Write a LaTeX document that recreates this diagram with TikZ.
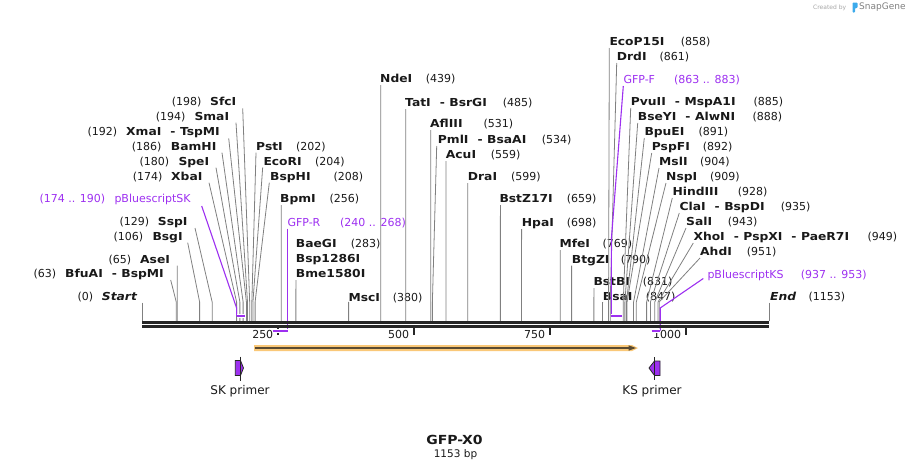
\documentclass[tikz,border=0pt]{standalone}
\usepackage{fontspec}
\setmainfont{DejaVu Sans}[BoldFeatures={FakeStretch=1.12},BoldItalicFeatures={FakeStretch=1.12}]
\definecolor{ln}{RGB}{128,128,128}
\definecolor{pur}{RGB}{157,48,240}
\definecolor{bb}{RGB}{38,38,38}
\definecolor{orf}{RGB}{250,200,120}
\definecolor{ord}{RGB}{90,75,50}
\definecolor{txt}{RGB}{25,25,25}
\definecolor{logob}{RGB}{60,170,235}
\tikzset{
 lab/.style={inner sep=0pt, anchor=west, text height=8pt, text depth=0pt, font=\fontsize{11}{13}\selectfont, text=txt},
 nm/.style={lab, font=\fontsize{11}{13}\selectfont\bfseries},
 plab/.style={lab, text=pur},
 cutl/.style={draw=ln, line width=0.8pt},
 featl/.style={draw=pur, line width=1.1pt},
 featbar/.style={draw=pur, line width=2.2pt},
 halo/.style={draw=white, line width=4pt},
 bbone/.style={draw=bb, line width=2.8pt},
 tickl/.style={draw=bb, line width=1.8pt},
 primer/.style={fill=pur, draw=bb, line width=0.8pt, line join=miter},
 plabel/.style={inner sep=0pt, text height=9pt, text depth=0pt, font=\fontsize{12}{14}\selectfont, text=txt}
}
\newcommand\sep{\hspace{9pt}-\hspace{4.5pt}}
\newcommand\enz[8]{%
 \node[nm] (#1) at (#4,#2) {#5};
 \node[lab] (#1n) at (#3,#2) {(#8)};
 \coordinate (#1a) at (#6,#7);
 \coordinate (#1c) at ({142+#8*0.5438},321);
 \draw[cutl] (#1a) -- (#1c |- bend) -- (#1c);
}
\begin{document}
\begin{tikzpicture}[x=1pt,y=-1pt]
\useasboundingbox (0,0) rectangle (911,471);
\coordinate (bend) at (0,302);

% ---- left cluster (number, then name)
\enz{sfc}{101.7}{171.7}{210}{SfcI}{242.7}{108.3}{198}
\enz{sma}{116.7}{155.7}{194.3}{SmaI}{236}{122.7}{194}
\enz{xma}{131.7}{87.3}{126}{XmaI\sep TspMI}{228.7}{138.3}{192}
\enz{bam}{146.7}{131.7}{170.7}{BamHI}{222}{152.7}{186}
\enz{spe}{161.7}{139.3}{178.3}{SpeI}{216}{167.7}{180}
\enz{xba}{176.7}{132.7}{171}{XbaI}{209}{182.7}{174}
\enz{ssp}{221.7}{119.3}{157.7}{SspI}{195}{228}{129}
\enz{bsg}{236.7}{113.3}{152.3}{BsgI}{187.7}{242.7}{106}
\enz{ase}{259}{108.3}{140}{AseI}{177.3}{265.5}{65}
\enz{bfu}{273.7}{33.3}{65}{BfuAI\sep BspMI}{170.7}{280}{63}

% ---- name, then number
\enz{pst}{146.7}{296}{256}{PstI}{256}{152.7}{202}
\enz{eco}{161.7}{315}{263.3}{EcoRI}{262.7}{167.3}{204}
\enz{bsph}{176.7}{333.3}{270}{BspHI}{269.3}{182.7}{208}
\enz{bpm}{198.3}{329.3}{280}{BpmI}{281.2}{205}{256}
\enz{bae}{243.3}{350.7}{295.7}{BaeGI}{295.9}{280}{283}
\node[nm] (bsp) at (295.7,258.5) {Bsp1286I};
\node[nm] (bme) at (295.7,273.5) {Bme1580I};
\enz{msc}{297.3}{392.7}{348.3}{MscI}{348.6}{303.5}{380}
\enz{nde}{78.3}{425.7}{380}{NdeI}{380.7}{85}{439}
\enz{tat}{102.7}{502.7}{405}{TatI\sep BsrGI}{405.7}{109}{485}
\enz{afl}{123.3}{483.3}{430}{AflIII}{430.8}{130}{531}
\enz{pml}{139.3}{541.7}{437.7}{PmlI\sep BsaAI}{436.7}{146}{534}
\enz{acu}{154.3}{490.7}{445.7}{AcuI}{446}{161}{559}
\enz{dra}{176.7}{511}{467.7}{DraI}{467.7}{183}{599}
\enz{bstz}{198.3}{566.7}{499.3}{BstZ17I}{500.4}{205}{659}
\enz{hpa}{222.3}{566.7}{521.7}{HpaI}{521.6}{229}{698}
\enz{mfe}{243.3}{602.3}{559.3}{MfeI}{560.2}{250}{769}
\enz{btg}{259}{620.7}{571.7}{BtgZI}{571.6}{265.5}{790}
\enz{bstb}{281.7}{642.7}{593.3}{BstBI}{593.9}{288}{831}
\enz{bsa}{296.7}{645.7}{602.7}{BsaI}{602.6}{303}{847}
\enz{ecop}{41.7}{680.7}{609.3}{EcoP15I}{609.3}{48}{858}
\enz{drd}{56.7}{659.3}{616.7}{DrdI}{616.7}{63}{861}
\enz{pvu}{101.7}{753.3}{630.7}{PvuII\sep MspA1I}{630.7}{108}{885}
\enz{bse}{116.7}{752.3}{637.7}{BseYI\sep AlwNI}{637.7}{123}{888}
\enz{bpu}{131.7}{698.3}{644.3}{BpuEI}{644.3}{138}{891}
\enz{psp}{146.7}{702.7}{651.7}{PspFI}{651.7}{153}{892}
\enz{msl}{161.7}{700}{659}{MslI}{659}{168}{904}
\enz{nsp}{176.7}{710}{666}{NspI}{666}{183}{909}
\enz{hind}{191.7}{737.7}{672.3}{HindIII}{672.3}{198}{928}
\enz{cla}{206.7}{780.7}{679.3}{ClaI\sep BspDI}{679.3}{213}{935}
\enz{sal}{221.7}{727.7}{686}{SalI}{686}{228}{943}
\enz{xho}{236.7}{867.3}{693.3}{XhoI\sep PspXI\sep PaeR7I}{693.3}{243}{949}
\enz{ahd}{251.7}{746.7}{700}{AhdI}{700}{258}{951}

% ---- start / end
\node[lab] (startn) at (77.3,296.7) {(0)};
\node[nm] (start) at (101.7,296.7) {\itshape Start};
\coordinate (starta) at (142,302.5);
\coordinate (startc) at (142,321);
\draw[cutl] (starta) -- (startc);
\node[nm] (endl) at (770,296.7) {\itshape End};
\node[lab] (endn) at (808.3,296.7) {(1153)};
\coordinate (enda) at (769,302.5);
\coordinate (endc) at (769,321);
\draw[cutl] (enda) -- (endc);

% ---- features (labels and leader lines)
\node[plab] (skn) at (39.3,198.3) {(174 .. 190)};
\node[plab] (sk) at (114.3,198.3) {pBluescriptSK};
\coordinate (ska) at (201.7,206);
\coordinate (skl) at (236.6,316);
\coordinate (skr) at (245.3,316);
\draw[featl] (ska) -- (236.6,308) -- (skl);

\node[plab] (gfpr) at (287.3,222.3) {GFP-R};
\node[plab] (gfprn) at (340,222.3) {(240 .. 268)};
\coordinate (gfpra) at (287.7,228.5);
\coordinate (gfprr) at (287.7,330.7);
\coordinate (gfprl) at (272.5,330.7);
\draw[featl] (gfpra) -- (gfprr);

\node[plab] (gfpf) at (623.3,79.3) {GFP-F};
\node[plab] (gfpfn) at (674,79.3) {(863 .. 883)};
\coordinate (gfpfa) at (623.3,86);
\coordinate (gfpfl) at (611.3,316);
\coordinate (gfpfr) at (622.2,316);
\draw[featl] (gfpfa) -- (611.3,240) -- (gfpfl);

\node[plab] (ks) at (707.3,274) {pBluescriptKS};
\node[plab] (ksn) at (800.7,274) {(937 .. 953)};
\coordinate (ksa) at (703.3,278.5);
\coordinate (ksr) at (660.2,330.7);
\coordinate (ksl) at (651.5,330.7);
\draw[featl] (ksa) -- (660.2,308) -- (ksr);

% ---- backbone
\draw[bbone] (142,322.5) -- (769,322.5);
\draw[bbone] (142,326.7) -- (769,326.7);

% ---- ticks
\foreach \v in {250,500,750,1000}{
  \draw[tickl] ({142+\v*0.5438},327.5) -- ({142+\v*0.5438},335);
  \node[lab, anchor=east] (t\v) at ({142+\v*0.5438-4.5},334) {\v};
}

% ---- feature bars
\foreach \a/\b in {skl/skr, gfprl/gfprr, gfpfl/gfpfr, ksl/ksr}{
  \draw[halo] (\a) -- (\b);
  \draw[featbar] (\a) -- (\b);
}

% ---- ORF arrow
\fill[orf] (254,345) -- (632,345) -- (638,348) -- (632,351) -- (254,351) -- cycle;
\draw[ord, line width=1.5pt] (255,348) -- (630,348);
\fill[ord] (628.5,345.3) -- (636,348) -- (628.5,350.7) -- cycle;

% ---- primers
\draw[primer] (235.3,360.5) -- (240.5,360.5) -- (243.5,368) -- (240.5,375.5) -- (235.3,375.5) -- cycle;
\draw[bb, line width=0.8pt] (240.3,356.5) -- (240.3,380.5);
\node[plabel] (skp) at (240,389.5) {SK primer};

\draw[primer] (660,361) -- (654.5,361) -- (649,368) -- (654.5,375.5) -- (660,375.5) -- cycle;
\draw[bb, line width=0.8pt] (654.5,357) -- (654.5,380);
\node[plabel] (ksp) at (652,389.5) {KS primer};

% ---- title
\node[inner sep=0pt, text height=9.5pt, text depth=0pt, font=\fontsize{12.5}{15}\selectfont\bfseries, text=txt] (title) at (454.5,440) {GFP-X0};
\node[inner sep=0pt, text height=7.5pt, text depth=0pt, font=\fontsize{10.5}{12}\selectfont, text=txt] (len) at (455.5,454) {1153 bp};

% ---- credit
\node[inner sep=0pt, anchor=west, font=\fontsize{6}{7}\selectfont, text=black!35] (cb) at (813,7.5) {Created by};
\fill[logob, rounded corners=0.8pt] (852.5,2.5) -- (857.5,2.5) -- (857.5,8) -- (855,8) -- (855,12.5) -- (852.5,12.5) -- cycle;
\node[inner sep=0pt, anchor=west, font=\fontsize{9}{10}\selectfont, text=black!50] (sg) at (859,7.5) {SnapGene};
\end{tikzpicture}
\end{document}
